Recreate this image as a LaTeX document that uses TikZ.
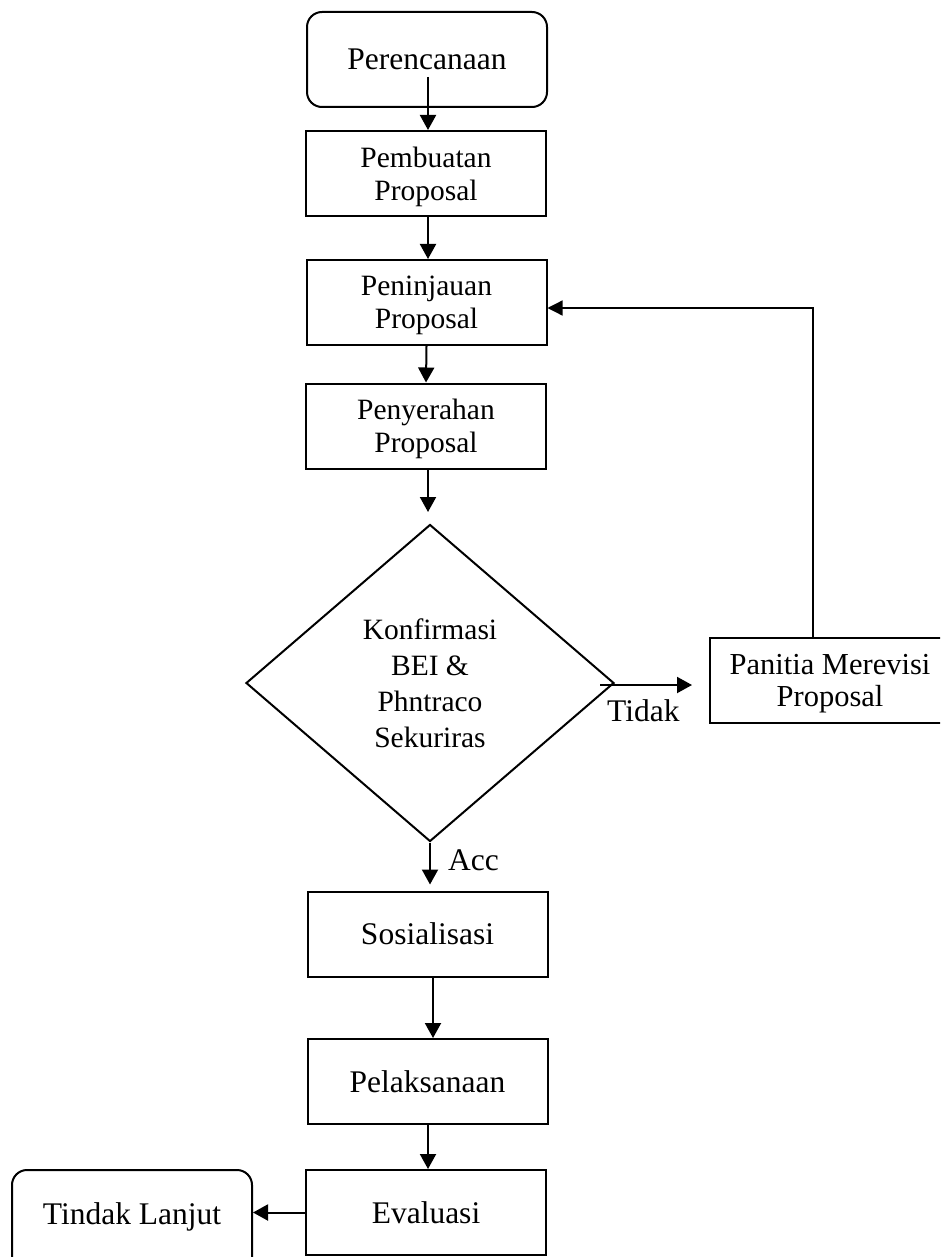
\documentclass[tikz,border=0pt]{standalone}
\usepackage{fontspec}
\setmainfont{Liberation Serif}
\usetikzlibrary{shapes.geometric,arrows.meta}
\begin{document}
\begin{tikzpicture}[x=1pt,y=-1pt,
  box/.style={draw,line width=2pt,minimum width=240pt,minimum height=85pt,inner sep=0pt,align=center,text depth=0pt,font=\fontsize{29.5}{33}\selectfont},
  bigbox/.style={box,font=\fontsize{31.5}{38}\selectfont},
  term/.style={bigbox,rounded corners=15pt},
  decision/.style={draw,diamond,line width=2pt,minimum width=368pt,minimum height=317pt,inner sep=0pt,align=center,font=\fontsize{29.5}{36}\selectfont},
  arr/.style={line width=2pt,-{Triangle[width=16pt,length=15pt]}},
  backarr/.style={line width=1.3pt,-{Triangle[width=15pt,length=15pt]}},
  lab/.style={font=\fontsize{31.5}{38}\selectfont,inner sep=0pt}]
\useasboundingbox (0,0) rectangle (940,1257);
\clip (0,0) rectangle (940,1257);
\fill[white] (0,0) rectangle (940,1257);

\node[term,minimum height=95pt] (plan) at (427,59.5) {Perencanaan};
\node[box] (buat) at (426,173.5) {Pembuatan\\Proposal};
\node[box] (tinjau) at (426.5,302.5) {Peninjauan\\Proposal};
\node[box] (serah) at (426,426) {Penyerahan\\Proposal};
\node[decision] (konf) at (430,683) {Konfirmasi\\BEI \&\\Phntraco\\Sekuriras};
\node[box,font=\fontsize{30.5}{32}\selectfont] (revisi) at (830,680.5) {Panitia Merevisi\\Proposal};
\node[bigbox] (sos) at (427.5,934) {Sosialisasi};
\node[bigbox] (lak) at (427.5,1081.5) {Pelaksanaan};
\node[bigbox] (eval) at (426,1212.5) {Evaluasi};
\node[term,minimum height=120pt,text height=21.5pt,text depth=33.5pt] (tindak) at (132,1230) {Tindak Lanjut};

\node[lab,anchor=base west] (acc) at (448,870) {Acc};
\node[lab,anchor=base west] (tidak) at (607,721) {Tidak};

\coordinate (p0) at (428,77);
\coordinate (d0) at (428,512);
\coordinate (t0) at (600,685);

\draw[arr] (p0) -- (p0 |- buat.north);
\draw[arr] (buat.south -| p0) -- (tinjau.north -| p0);
\draw[arr] (tinjau.south) -- (serah.north);
\draw[arr] (serah.south -| d0) -- (d0);
\draw[arr] (konf.south) -- ([yshift=6pt]konf.south |- sos.north);
\draw[arr] ([xshift=5.5pt]sos.south) -- ([xshift=5.5pt]sos.south |- lak.north);
\draw[arr] (lak.south -| p0) -- (eval.north -| p0);
\draw[arr] (eval.west) -- (tindak.east |- eval.west);
\draw[arr] (t0) -- ([xshift=-17pt]revisi.west |- t0);
\draw[backarr] ([xshift=-17pt]revisi.north) |- ([yshift=-5.5pt]tinjau.east);
\end{tikzpicture}
\end{document}
